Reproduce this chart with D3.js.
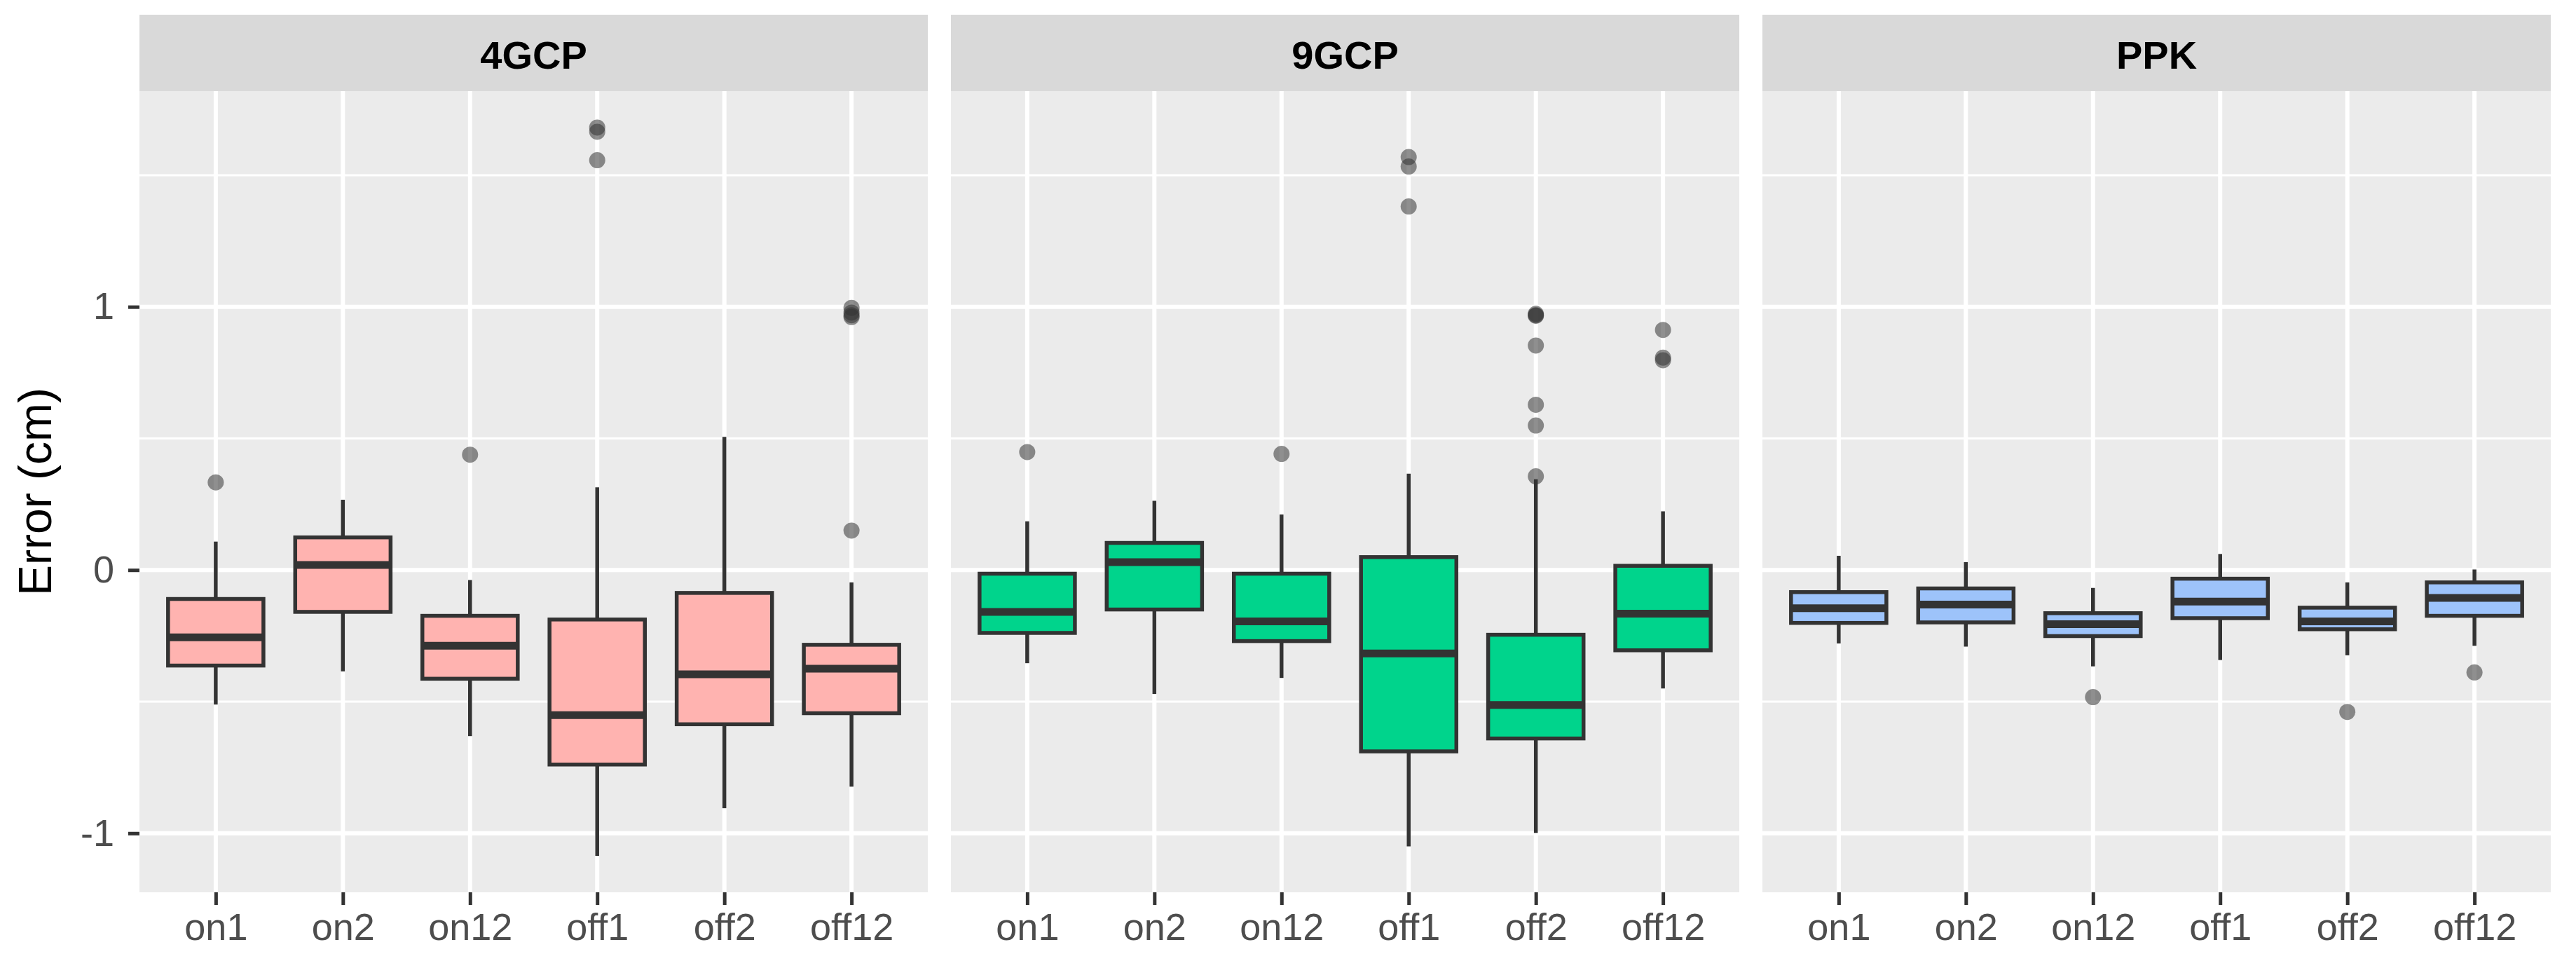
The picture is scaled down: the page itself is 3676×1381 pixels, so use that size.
<!DOCTYPE html>
<html>
<head>
<meta charset="utf-8">
<script src="https://cdn.jsdelivr.net/npm/d3@7"></script>
<style>
  body { margin: 0; background: #fff; }
  text { font-family: "Liberation Sans", Arial, sans-serif; }
</style>
</head>
<body>
<div id="chart"></div>
<script>
// categories and panels
var categories = ["on1", "on2", "on12", "off1", "off2", "off12"];
var panels = ["4GCP", "9GCP", "PPK"];
var fills = ["#ffb3b0", "#00d48c", "#9dc3fa"];
var yTicks = [-1, 0, 1];
var yMinor = [-0.5, 0.5, 1.5];

// box stats per panel, one value per category
var whiskerLow = [
  [-0.511, -0.385, -0.631, -1.086, -0.905, -0.823],
  [-0.354, -0.471, -0.410, -1.050, -0.999, -0.450],
  [-0.279, -0.291, -0.366, -0.342, -0.324, -0.288]
];
var q1 = [
  [-0.363, -0.159, -0.413, -0.739, -0.586, -0.544],
  [-0.239, -0.150, -0.270, -0.689, -0.640, -0.305],
  [-0.201, -0.199, -0.251, -0.183, -0.225, -0.174]
];
var median = [
  [-0.256, 0.019, -0.288, -0.551, -0.396, -0.375],
  [-0.159, 0.030, -0.195, -0.317, -0.513, -0.166],
  [-0.145, -0.131, -0.206, -0.120, -0.195, -0.106]
];
var q3 = [
  [-0.110, 0.124, -0.174, -0.188, -0.087, -0.284],
  [-0.014, 0.103, -0.014, 0.049, -0.246, 0.016],
  [-0.084, -0.070, -0.164, -0.033, -0.143, -0.047]
];
var whiskerHigh = [
  [0.108, 0.267, -0.038, 0.314, 0.506, -0.047],
  [0.185, 0.263, 0.211, 0.366, 0.345, 0.223],
  [0.054, 0.030, -0.068, 0.061, -0.047, 0.002]
];
var outliers = [
  [[0.333], [], [0.438], [1.681, 1.665, 1.557], [], [0.996, 0.978, 0.968, 0.961, 0.150]],
  [[0.448], [], [0.441], [1.569, 1.533, 1.381], [0.973, 0.968, 0.966, 0.853, 0.628, 0.549, 0.356], [0.912, 0.807, 0.797]],
  [[], [], [-0.483], [], [-0.539], [-0.389]]
];

var W = 3676, H = 1381;
var panelLeft = [199, 1357, 2515], panelW = 1125;
var stripTop = 21, plotTop = 130, plotBottom = 1273;
var lineW = 5.5;

var svg = d3.select("#chart").append("svg")
  .attr("width", W).attr("height", H);

// y range from the data, expanded by 5% like ggplot
var allVals = [];
for (var p = 0; p < panels.length; p++) {
  allVals = allVals.concat(whiskerLow[p], whiskerHigh[p]);
  outliers[p].forEach(function(o) { allVals = allVals.concat(o); });
}
var ext = d3.extent(allVals), pad = (ext[1] - ext[0]) * 0.05;
var y = d3.scaleLinear()
  .domain([ext[0] - pad, ext[1] + pad])
  .range([plotBottom, plotTop]);

panels.forEach(function(name, p) {
  var left = panelLeft[p];
  var x = d3.scalePoint()
    .domain(categories)
    .range([left, left + panelW])
    .padding(0.6);
  var boxW = x.step() * 0.75;

  // strip
  svg.append("rect")
    .attr("x", left).attr("y", stripTop)
    .attr("width", panelW).attr("height", plotTop - stripTop)
    .attr("fill", "#d9d9d9");
  svg.append("text")
    .attr("x", left + panelW / 2).attr("y", 98)
    .attr("text-anchor", "middle")
    .attr("font-size", "56px").attr("font-weight", "bold")
    .attr("fill", "#000")
    .text(name);

  // panel background
  svg.append("rect")
    .attr("x", left).attr("y", plotTop)
    .attr("width", panelW).attr("height", plotBottom - plotTop)
    .attr("fill", "#ebebeb");

  // grid
  var g = svg.append("g");
  g.selectAll("line.minor").data(yMinor).enter().append("line")
    .attr("x1", left).attr("x2", left + panelW)
    .attr("y1", function(d) { return y(d); }).attr("y2", function(d) { return y(d); })
    .attr("stroke", "#fff").attr("stroke-width", 3);
  g.selectAll("line.major").data(yTicks).enter().append("line")
    .attr("x1", left).attr("x2", left + panelW)
    .attr("y1", function(d) { return y(d); }).attr("y2", function(d) { return y(d); })
    .attr("stroke", "#fff").attr("stroke-width", 6);
  g.selectAll("line.vert").data(categories).enter().append("line")
    .attr("x1", function(d) { return x(d); }).attr("x2", function(d) { return x(d); })
    .attr("y1", plotTop).attr("y2", plotBottom)
    .attr("stroke", "#fff").attr("stroke-width", 6);

  // boxes
  var rows = categories.map(function(c, i) {
    return {cat: c, lo: whiskerLow[p][i], q1: q1[p][i], med: median[p][i],
            q3: q3[p][i], hi: whiskerHigh[p][i], out: outliers[p][i]};
  });
  var box = svg.append("g").selectAll("g").data(rows).enter().append("g");
  box.append("line")
    .attr("x1", function(d) { return x(d.cat); }).attr("x2", function(d) { return x(d.cat); })
    .attr("y1", function(d) { return y(d.hi); }).attr("y2", function(d) { return y(d.q3); })
    .attr("stroke", "#333").attr("stroke-width", lineW);
  box.append("line")
    .attr("x1", function(d) { return x(d.cat); }).attr("x2", function(d) { return x(d.cat); })
    .attr("y1", function(d) { return y(d.q1); }).attr("y2", function(d) { return y(d.lo); })
    .attr("stroke", "#333").attr("stroke-width", lineW);
  box.append("rect")
    .attr("x", function(d) { return x(d.cat) - boxW / 2; })
    .attr("y", function(d) { return y(d.q3); })
    .attr("width", boxW)
    .attr("height", function(d) { return y(d.q1) - y(d.q3); })
    .attr("fill", fills[p])
    .attr("stroke", "#333").attr("stroke-width", lineW);
  box.append("line")
    .attr("x1", function(d) { return x(d.cat) - boxW / 2; })
    .attr("x2", function(d) { return x(d.cat) + boxW / 2; })
    .attr("y1", function(d) { return y(d.med); }).attr("y2", function(d) { return y(d.med); })
    .attr("stroke", "#333").attr("stroke-width", lineW * 2);
  box.selectAll("circle")
    .data(function(d) { return d.out.map(function(v) { return {cat: d.cat, v: v}; }); })
    .enter().append("circle")
    .attr("cx", function(d) { return x(d.cat); })
    .attr("cy", function(d) { return y(d.v); })
    .attr("r", 11.5)
    .attr("fill", "#333").attr("fill-opacity", 0.55);

  // x axis
  var xAxis = svg.append("g")
    .attr("transform", "translate(0," + plotBottom + ")")
    .call(d3.axisBottom(x).tickSize(18).tickPadding(12));
  xAxis.select(".domain").remove();
  xAxis.selectAll(".tick line").attr("stroke", "#333").attr("stroke-width", 5);
  xAxis.selectAll(".tick text")
    .attr("font-size", "54px").attr("fill", "#4d4d4d")
    .attr("font-family", "'Liberation Sans', Arial, sans-serif");
});

// y axis on the first panel only
var yAxis = svg.append("g")
  .attr("transform", "translate(" + panelLeft[0] + ",0)")
  .call(d3.axisLeft(y).tickValues(yTicks).tickSize(16).tickPadding(20)
    .tickFormat(function(d) { return String(d); }));
yAxis.select(".domain").remove();
yAxis.selectAll(".tick line").attr("stroke", "#333").attr("stroke-width", 5);
yAxis.selectAll(".tick text")
  .attr("font-size", "54px").attr("fill", "#4d4d4d")
  .attr("font-family", "'Liberation Sans', Arial, sans-serif");

svg.append("text")
  .attr("transform", "translate(73," + (plotTop + plotBottom) / 2 + ") rotate(-90)")
  .attr("text-anchor", "middle")
  .attr("font-size", "66px").attr("fill", "#000")
  .text("Error (cm)");
</script>
</body>
</html>
